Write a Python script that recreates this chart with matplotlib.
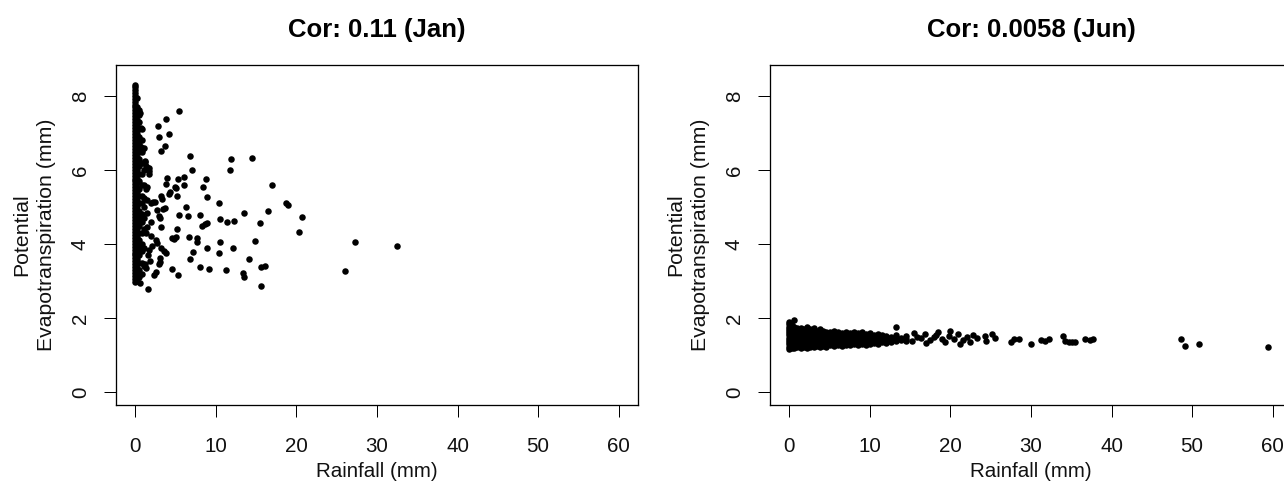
import matplotlib
matplotlib.use("Agg")
import matplotlib.pyplot as plt

# ---------------- data ----------------
titles = ["Cor: 0.11 (Jan)", "Cor: 0.0058 (Jun)"]
x_label = "Rainfall (mm)"
y_label_lines = ["Potential", "Evapotranspiration (mm)"]
x_ticks = [0, 10, 20, 30, 40, 50, 60]
y_ticks = [0, 2, 4, 6, 8]

# January: dense column of (nearly) dry days
jan_col_rain = [0.0]*68 + [0.25]*40 + [0.5]*24 + [0.8]*15 + [1.1]*9
jan_col_pet = [2.97, 3.05, 3.13, 3.21, 3.29, 3.37, 3.45, 3.53, 3.61, 3.69, 3.77, 3.85,
               3.93, 4.01, 4.09, 4.17, 4.25, 4.33, 4.41, 4.49, 4.57, 4.65, 4.73, 4.81,
               4.89, 4.97, 5.05, 5.13, 5.21, 5.29, 5.37, 5.45, 5.53, 5.61, 5.69, 5.77,
               5.85, 5.93, 6.01, 6.09, 6.17, 6.25, 6.33, 6.41, 6.49, 6.57, 6.65, 6.73,
               6.81, 6.89, 6.97, 7.05, 7.13, 7.21, 7.29, 7.37, 7.45, 7.53, 7.61, 7.69,
               7.77, 7.85, 7.93, 8.01, 8.09, 8.17, 8.25, 8.30,
               3.00, 3.12, 3.24, 3.36, 3.48, 3.60, 3.72, 3.84, 3.96, 4.08, 4.20, 4.32,
               4.44, 4.56, 4.68, 4.80, 4.92, 5.04, 5.16, 5.28, 5.40, 5.52, 5.64, 5.76,
               5.88, 6.00, 6.12, 6.24, 6.36, 6.48, 6.60, 6.72, 6.84, 6.96, 7.08, 7.20,
               7.36, 7.52, 7.70, 7.95,
               3.10, 3.30, 3.50, 3.70, 3.90, 4.10, 4.30, 4.50, 4.70, 4.90, 5.10, 5.30,
               5.50, 5.70, 5.90, 6.10, 6.30, 6.50, 6.70, 6.90, 7.10, 7.30, 7.50, 7.62,
               3.20, 3.50, 3.80, 4.00, 4.30, 4.60, 4.80, 5.10, 5.30, 5.60, 5.90, 6.20,
               6.50, 6.80, 7.10,
               3.40, 3.90, 4.40, 4.70, 5.00, 5.25, 5.60, 6.00, 6.60]

# January: wet days
jan_rain = [5.47, 3.81, 2.77, 4.14, 2.98, 3.64, 3.23, 0.75, 0.54, 6.79, 7.00, 11.93,
            11.76, 14.45, 16.98, 18.72, 18.92, 20.70, 20.37, 27.33, 26.00, 32.50, 16.48,
            15.45, 14.90, 14.12, 15.65, 16.06, 15.65, 13.42, 13.54, 13.46, 12.26, 11.43,
            10.56, 10.35, 10.56, 10.35, 12.08, 11.22, 9.19, 7.99, 8.86, 6.83, 7.16, 7.66,
            7.70, 6.67, 8.28, 8.61, 8.90, 7.99, 6.50, 5.47, 6.34, 8.90, 8.36, 8.74, 6.00,
            6.00, 5.30, 5.13, 5.05, 4.97, 4.35, 4.18, 3.81, 3.98, 3.15, 3.35, 3.69, 3.39,
            3.15, 5.13, 4.51, 4.84, 5.09, 3.19, 3.52, 3.76, 3.11, 3.02, 2.89, 2.57, 2.70,
            2.11, 1.95, 2.61, 2.28, 4.60, 5.25, 1.58, 0.62, 2.15, 2.48, 1.95, 1.45, 1.37,
            1.37, 1.58, 1.74, 1.24, 0.87, 0.71, 2.70, 2.90, 3.11, 1.40, 1.55, 1.65, 1.30,
            1.80, 1.50, 1.35, 1.70, 1.45, 1.25, 2.00, 1.75, 1.20]
jan_pet = [7.59, 7.37, 7.18, 6.96, 6.88, 6.66, 6.52, 7.14, 7.53, 6.37, 6.00, 6.30,
           6.00, 6.33, 5.59, 5.12, 5.05, 4.72, 4.33, 4.05, 3.28, 3.95, 4.89,
           4.56, 4.08, 3.59, 3.37, 3.41, 2.86, 3.21, 3.12, 4.85, 4.63, 4.59,
           4.68, 5.11, 4.05, 3.75, 3.90, 3.31, 3.32, 3.38, 3.90, 3.59, 3.78, 4.16,
           4.05, 4.20, 4.49, 4.54, 4.58, 4.78, 4.77, 4.78, 5.00, 5.26, 5.55, 5.75, 5.59,
           5.82, 5.76, 5.30, 5.51, 5.55, 5.40, 5.35, 5.63, 5.78, 5.31, 5.22, 4.98, 4.94,
           4.47, 4.41, 4.15, 4.13, 4.18, 3.88, 3.80, 3.76, 3.61, 3.52, 3.45, 4.11, 4.04,
           3.94, 4.22, 3.24, 3.16, 3.32, 3.16, 2.79, 2.94, 5.14, 5.14, 5.12, 5.55, 5.48,
           6.12, 6.05, 5.97, 6.22, 6.54, 6.61, 4.92, 4.76, 4.69, 4.45, 3.70, 5.90, 4.30,
           3.55, 5.20, 3.35, 6.05, 4.85, 6.25, 4.60, 3.85, 3.45]

# June: dense band of low-rain days
jun_band_rain = ([0.0]*13 + [0.3]*11 + [0.6]*11 + [1.0]*9 + [1.4]*9 + [1.8]*8 +
                 [2.2]*9 + [2.6]*8 + [3.0]*8 + [3.4]*7 + [3.8]*8 + [4.2]*7 +
                 [4.6]*7 + [5.0]*6 + [5.5]*7 + [6.0]*6 + [6.5]*6 + [7.0]*6 +
                 [7.5]*6 + [8.0]*6 + [8.5]*6 + [9.0]*6 + [9.5]*5 + [10.0]*5 +
                 [10.5]*4 + [11.0]*5 + [11.5]*4 + [12.0]*4 + [12.6]*3 + [13.2]*4 +
                 [13.8]*2 + [14.5]*3)
jun_band_pet = [1.17, 1.23, 1.29, 1.35, 1.41, 1.47, 1.53, 1.59, 1.65, 1.71, 1.77, 1.83, 1.89,
                1.20, 1.27, 1.34, 1.40, 1.46, 1.52, 1.58, 1.64, 1.70, 1.76, 1.82,
                1.18, 1.25, 1.32, 1.39, 1.45, 1.51, 1.57, 1.63, 1.69, 1.75, 1.95,
                1.21, 1.28, 1.35, 1.42, 1.49, 1.56, 1.62, 1.68, 1.74,
                1.19, 1.26, 1.33, 1.40, 1.47, 1.54, 1.61, 1.67, 1.73,
                1.22, 1.29, 1.36, 1.43, 1.50, 1.57, 1.64, 1.70,
                1.20, 1.27, 1.34, 1.41, 1.48, 1.55, 1.62, 1.69, 1.76,
                1.23, 1.30, 1.37, 1.44, 1.51, 1.58, 1.65, 1.71,
                1.21, 1.28, 1.35, 1.42, 1.49, 1.56, 1.63, 1.72,
                1.24, 1.31, 1.38, 1.45, 1.52, 1.59, 1.66,
                1.22, 1.29, 1.36, 1.43, 1.50, 1.57, 1.64, 1.70,
                1.25, 1.32, 1.39, 1.46, 1.53, 1.60, 1.66,
                1.23, 1.30, 1.37, 1.44, 1.51, 1.58, 1.63,
                1.26, 1.33, 1.40, 1.47, 1.54, 1.61,
                1.24, 1.31, 1.38, 1.45, 1.52, 1.59, 1.64,
                1.27, 1.34, 1.41, 1.48, 1.55, 1.61,
                1.25, 1.32, 1.39, 1.46, 1.53, 1.60,
                1.28, 1.35, 1.42, 1.49, 1.56, 1.62,
                1.26, 1.33, 1.40, 1.47, 1.54, 1.59,
                1.29, 1.36, 1.43, 1.50, 1.57, 1.63,
                1.27, 1.34, 1.41, 1.48, 1.55, 1.60,
                1.30, 1.37, 1.44, 1.51, 1.58, 1.62,
                1.28, 1.35, 1.42, 1.49, 1.56,
                1.31, 1.38, 1.45, 1.52, 1.59,
                1.33, 1.40, 1.47, 1.54,
                1.30, 1.37, 1.44, 1.51, 1.57,
                1.34, 1.41, 1.48, 1.55,
                1.32, 1.39, 1.46, 1.52,
                1.36, 1.43, 1.50,
                1.38, 1.45, 1.53, 1.75,
                1.40, 1.47,
                1.37, 1.44, 1.52]

# June: scattered wetter days
jun_rain = [15.2, 15.8, 16.3, 16.9, 17.4, 17.9, 18.5, 18.9, 15.5, 17.0, 18.2,
            19.3, 19.8, 20.4, 20.9, 21.5, 22.0, 22.4, 22.8, 23.3, 20.0, 21.2,
            24.35, 24.4, 25.2, 25.5, 27.5, 27.95, 28.57, 30.0, 31.27, 31.7, 32.2,
            33.95, 34.2, 34.7, 35.1, 35.5, 36.7, 37.3, 37.7,
            48.57, 49.15, 50.8, 59.46]
jun_pet = [1.38, 1.50, 1.45, 1.57, 1.40, 1.48, 1.62, 1.44, 1.60, 1.33, 1.55,
           1.36, 1.52, 1.44, 1.58, 1.40, 1.50, 1.35, 1.55, 1.45, 1.65, 1.30,
           1.51, 1.39, 1.57, 1.46, 1.36, 1.42, 1.42, 1.29, 1.41, 1.39, 1.43,
           1.51, 1.38, 1.34, 1.34, 1.34, 1.42, 1.41, 1.42,
           1.43, 1.25, 1.29, 1.21]

# ---------------- layout ----------------
W, H = 1284, 482
fig = plt.figure(figsize=(W/100, H/100), dpi=100)
plt.rcParams['font.family'] = ['Liberation Sans', 'DejaVu Sans']

px = 72/100  # points per pixel
fs = 20.5*px
fs_y = fs*1.04
lefts = [116, 770]
panels = [(jan_col_rain + jan_rain, jan_col_pet + jan_pet),
          (jun_band_rain + jun_rain, jun_band_pet + jun_pet)]

for i, (xs, ys) in enumerate(panels):
    L = lefts[i]
    ax = fig.add_axes([L/W, 77/H, 522/W, 340/H])
    ax.plot(xs, ys, 'o', color='black', markersize=6.5*px, markeredgewidth=0,
            clip_on=False)
    ax.set_xlim(-2.4, 62.4)
    ax.set_ylim(-0.351, 8.838)
    ax.set_xticks(x_ticks)
    ax.set_yticks(y_ticks)
    ax.set_xticklabels([str(t) for t in x_ticks])
    ax.set_yticklabels([str(t) for t in y_ticks], rotation=90, va='center')
    ax.tick_params(direction='out', length=12*px, width=1.0*px, labelsize=fs,
                   color='black', labelcolor='#111111')
    ax.tick_params(axis='x', pad=20*px)
    ax.tick_params(axis='y', pad=14*px)
    for s in ax.spines.values():
        s.set_linewidth(1.3*px)
        s.set_color('black')
    cx = (L + 261)/W
    fig.text(cx, 1-37/H, titles[i], ha='center', va='baseline',
             fontsize=25.8*px, fontweight='bold', color='black')
    fig.text(cx, 1-477/H, x_label, ha='center', va='baseline', fontsize=fs,
             color='#111111')
    fig.text((L-94)/W, 1-235/H, y_label_lines[0], rotation=90, ha='center',
             va='center', fontsize=fs_y, color='#111111')
    fig.text((L-69)/W, 1-235/H, y_label_lines[1], rotation=90, ha='center',
             va='center', fontsize=fs_y, color='#111111')

fig.savefig("out.png", dpi=100)
